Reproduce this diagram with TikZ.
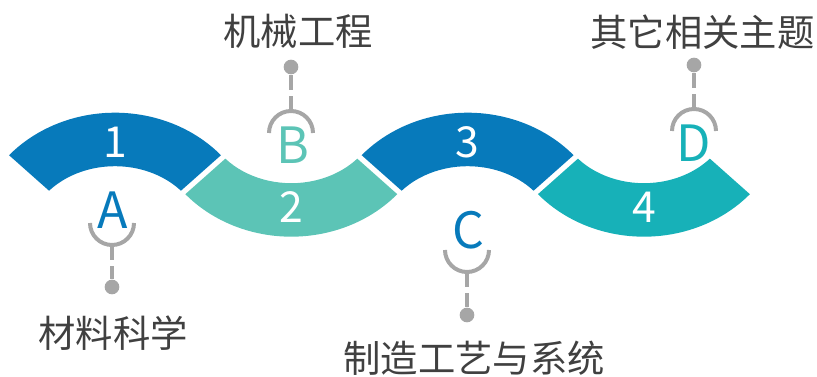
\documentclass[tikz,border=0pt]{standalone}
\usepackage{fontspec}
\setmainfont{Noto Sans CJK SC}
\usetikzlibrary{calc}
\definecolor{bandblue}{RGB}{7,122,187}
\definecolor{bandmint}{RGB}{92,196,182}
\definecolor{bandteal}{RGB}{23,177,184}
\definecolor{stemgray}{RGB}{166,166,166}
\definecolor{labelgray}{RGB}{64,64,64}
\begin{document}
\begin{tikzpicture}[x=0.75pt, y=0.75pt,
  digit/.style={text=white, font=\fontsize{32}{34}\selectfont},
  letter/.style={font=\fontsize{37.5}{40}\selectfont},
  topic/.style={text=labelgray, font=\fontsize{28}{30}\selectfont},
  hook/.style={draw=stemgray, line width=3pt},
  stem/.style={draw=stemgray, line width=3pt, dash pattern=on 11pt off 5pt on 40pt},
  pin/.style={circle, fill=stemgray, inner sep=0pt, minimum width=11pt}]
\useasboundingbox (0,0) rectangle (817,377);

% the wave of four bands
\foreach \cx/\cy/\sg/\col/\n in {115/137.8/1/bandblue/1, 291.3/266.8/-1/bandmint/2,
                                  467.6/137.8/1/bandblue/3, 643.9/266.8/-1/bandteal/4}{
  \begin{scope}[shift={(\cx,\cy)}, yscale=\sg]
    \fill[\col] (41.6:141.7 and 126.5)
      arc[start angle=41.6, end angle=138.4, x radius=141.7, y radius=126.5]
      -- (138.4:88.2 and 73)
      arc[start angle=138.4, end angle=41.6, x radius=88.2, y radius=73] -- cycle;
    \node[digit] (n\n) at (0,97) {\n};
  \end{scope}
}

% A
\node[letter, text=bandblue] (A) at (113,167) {A};
\coordinate (hubA) at (112,154);
\coordinate (footA) at (112,132);
\draw[hook] ($(hubA)+(-22,0)$) arc[start angle=180, end angle=360, radius=22];
\node[pin] (pinA) at (112,90) {};
\draw[stem] (footA) -- (pinA);
\node[topic] (tA) at (113,44) {材料科学};

% B
\node[letter, text=bandmint] (B) at (293,231.5) {B};
\coordinate (hubB) at (291,244);
\coordinate (footB) at (291,266);
\draw[hook] ($(hubB)+(22,0)$) arc[start angle=0, end angle=180, radius=22];
\node[pin] (pinB) at (291,310) {};
\draw[stem] (footB) -- (pinB);
\node[topic] (tB) at (298,345.5) {机械工程};

% C
\node[letter, text=bandblue] (C) at (468,147) {C};
\coordinate (hubC) at (467,127);
\coordinate (footC) at (467,105);
\draw[hook] ($(hubC)+(-22,0)$) arc[start angle=180, end angle=360, radius=22];
\node[pin] (pinC) at (467,62) {};
\draw[stem] (footC) -- (pinC);
\node[topic] (tC) at (474,19) {制造工艺与系统};

% D
\node[letter, text=bandteal] (D) at (694,233.5) {D};
\coordinate (hubD) at (694,246);
\coordinate (footD) at (694,268);
\draw[hook] ($(hubD)+(22,0)$) arc[start angle=0, end angle=180, radius=22];
\node[pin] (pinD) at (694,312) {};
\draw[stem] (footD) -- (pinD);
\node[topic] (tD) at (702.5,345.3) {其它相关主题};

\end{tikzpicture}
\end{document}
